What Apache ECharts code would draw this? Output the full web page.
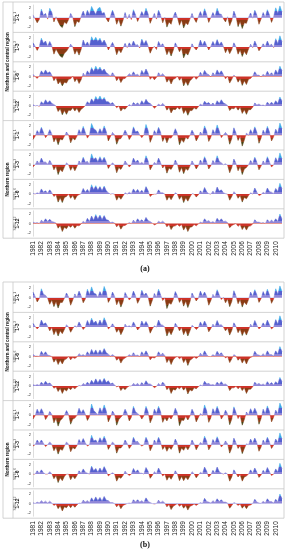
<!DOCTYPE html>
<html><head><meta charset="utf-8">
<script src="https://cdn.jsdelivr.net/npm/echarts@6/dist/echarts.min.js"></script>
<style>html,body{margin:0;padding:0;background:#fff}#c{width:287px;height:550px}</style>
</head><body><div id="c"></div>
<script>
const years = [1981,1982,1983,1984,1985,1986,1987,1988,1989,1990,1991,1992,1993,1994,1995,1996,1997,1998,1999,2000,2001,2002,2003,2004,2005,2006,2007,2008,2009,2010];
const quarters = ['Q1','Q2','Q3','Q4'];
const panelLabels = ['1-1','1-3','1-6','1-12','1-1','1-3','1-6','1-12'];
const axisNames = ['SPEI_1','SPEI_3','SPEI_6','SPEI_12','SPEI_1','SPEI_3','SPEI_6','SPEI_12'];
const groupNames = ['Northern and central region','Northern region'];
const figLabels = ['(a)','(b)'];
const yTicks = [-2,0,2];

// quarterly values 1981..2010 (four per year)
const A1 = [0.6,-0.2,-1.1,-0.4, 1.8,0.5,0.9,-0.3, 2.0,1.1,-0.9,0.2, -0.8,-1.7,-2.1,-0.9, -1.3,-0.4,0.9,0.1,
 -1.9,-0.7,-1.0,0.3, 1.4,0.2,1.6,0.6, 2.4,1.5,0.7,1.9, 2.2,0.9,1.1,-0.2, -0.9,0.3,1.6,0.4,
 -1.4,-0.3,-1.8,-0.6, 1.1,-0.2,0.7,-0.4, 1.7,0.6,-0.8,0.2, 1.3,0.4,2.0,0.8, -1.2,-0.1,0.9,-0.3,
 1.6,0.5,-1.1,0.1, -2.0,-0.9,-1.4,0.2, 1.2,0.1,-1.6,-0.5, -2.2,-1.1,-1.5,-0.3, 0.9,-0.2,-1.0,0.2,
 1.3,0.2,1.9,0.6, -1.0,0.1,1.1,0.2, 2.0,0.8,0.7,-0.2, -0.9,0.2,-1.7,-0.6, 1.4,0.3,-1.9,-0.8,
 -2.3,-1.1,-1.2,0.1, 1.0,-0.1,1.6,0.5, -1.4,-0.3,1.1,0.1, 1.7,0.6,-1.0,0.2, 2.1,0.9,2.5,1.2];
const A2 = [0.9,0.2,-0.7,0.1, 1.9,0.8,1.3,0.2, 1.2,0.3,-1.5,-0.4, -1.2,-1.9,-2.2,-1.3, -0.9,-0.2,0.6,0.1,
 -1.5,-0.6,-1.7,-0.5, 1.5,0.4,1.1,0.2, 2.2,1.3,2.1,1.2, 1.9,0.8,1.5,0.6, -0.6,0.2,1.0,0.1,
 -1.6,-0.5,-1.2,-0.2, 0.8,-0.1,0.9,0.2, 1.3,0.4,0.5,-0.2, 1.7,0.6,1.4,0.3, -1.3,-0.3,0.2,-0.5,
 1.2,0.3,0.7,-0.1, -1.6,-0.6,-1.9,-0.7, 0.9,0.1,-1.0,-0.2, -2.3,-1.2,-1.7,-0.6, 0.7,-0.1,-0.6,0.1,
 1.5,0.4,1.3,0.3, -0.6,0.2,1.2,0.3, 1.6,0.5,1.1,0.2, -1.2,-0.3,-1.4,-0.5, 0.9,0.1,-1.5,-0.6,
 -2.0,-0.9,-1.6,-0.4, 0.6,-0.1,1.3,0.3, -0.8,-0.1,0.7,0.1, 1.3,0.3,0.6,-0.1, 1.8,0.7,2.4,1.1];
const A3 = [0.5,0.0,-0.4,0.1, 1.2,0.6,1.4,0.7, 1.0,0.3,-0.9,-0.2, -1.6,-1.0,-2.0,-1.2, -1.4,-0.6,-0.5,0.1,
 -1.1,-0.4,-1.5,-0.7, 0.7,0.1,1.2,0.5, 1.9,1.0,2.2,1.3, 2.0,1.1,1.6,0.8, 0.5,0.1,0.8,0.2,
 -0.9,-0.2,-1.3,-0.5, -0.4,0.1,0.6,0.2, 1.0,0.3,0.5,0.0, 1.3,0.5,1.6,0.7, -0.6,-0.1,-0.7,-0.2,
 0.8,0.2,0.6,0.1, -1.2,-0.5,-1.6,-0.6, -0.4,0.1,-0.8,-0.2, -2.0,-1.0,-1.9,-0.9, -0.5,0.0,-0.6,-0.1,
 0.9,0.2,1.3,0.6, 0.4,-0.1,0.8,0.2, 1.4,0.6,1.2,0.4, -0.5,0.1,-1.4,-0.6, 0.3,-0.1,-1.2,-0.5,
 -1.9,-0.9,-1.7,-0.6, -0.4,0.1,1.0,0.3, 0.3,-0.1,0.5,0.1, 1.1,0.3,0.8,0.2, 1.4,0.6,2.2,1.2];
const A4 = [0.3,0.0,0.1,-0.1, 0.9,0.4,1.3,0.6, 1.1,0.5,0.3,0.0, -1.2,-0.6,-1.9,-1.0, -1.8,-0.9,-1.0,-0.4,
 -1.1,-0.5,-1.4,-0.7, -0.4,0.1,0.9,0.4, 1.5,0.8,2.0,1.2, 2.1,1.2,1.8,0.9, 0.9,0.4,0.7,0.2,
 -0.4,0.0,-1.1,-0.5, -0.7,-0.2,0.3,0.0, 0.7,0.3,0.6,0.2, 1.1,0.4,1.4,0.7, 0.5,0.1,-0.5,-0.1,
 0.4,0.1,0.5,0.1, -0.9,-0.3,-1.5,-0.7, -0.8,-0.3,-0.7,-0.2, -1.6,-0.8,-2.0,-1.0, -1.0,-0.4,-0.7,-0.2,
 0.4,0.1,1.0,0.5, 0.7,0.2,0.6,0.1, 1.1,0.5,1.3,0.6, 0.4,0.1,-1.0,-0.5, -0.6,-0.2,-0.9,-0.3,
 -1.6,-0.8,-1.8,-0.8, -0.8,-0.3,0.6,0.2, 0.4,0.1,0.2,0.0, 0.8,0.3,0.8,0.3, 1.1,0.5,1.9,1.0];
const A5 = [-0.9,-0.2,1.0,0.3, 1.7,0.6,-0.5,0.1, 1.2,0.3,-1.4,-0.5, -2.0,-0.8,-1.0,-0.2, 0.7,0.1,-1.6,-0.6,
 -1.0,-0.2,1.2,0.3, 1.9,0.6,-0.6,0.1, 2.5,1.4,1.1,0.3, 1.4,0.5,2.0,0.8, -1.2,-0.3,0.6,0.1,
 -1.9,-0.8,-0.7,0.1, 1.1,0.3,-0.9,-0.2, 1.8,0.7,0.9,0.1, -0.5,0.1,2.3,1.0, -1.5,-0.4,1.0,0.2,
 1.7,0.6,-1.3,-0.3, -1.6,-0.5,-0.6,0.1, 1.4,0.4,-2.0,-0.9, -1.5,-0.4,-0.8,0.0, 1.1,0.3,-1.2,-0.4,
 0.7,0.1,2.0,0.8, -1.3,-0.4,1.2,0.3, 2.2,0.9,-0.5,0.1, 0.6,0.1,-1.9,-0.7, 1.6,0.5,-1.1,-0.2,
 -2.3,-1.0,0.5,0.0, 1.2,0.3,1.8,0.6, -1.7,-0.6,1.1,0.2, 1.9,0.7,-1.2,-0.3, 1.3,0.4,2.6,1.4];
const A6 = [-0.5,0.0,0.8,0.2, 1.4,0.5,0.6,0.1, 0.9,0.2,-1.1,-0.3, -2.1,-1.0,-1.5,-0.5, 0.4,0.0,-1.2,-0.4,
 -1.3,-0.4,0.8,0.2, 1.6,0.5,0.7,0.1, 2.3,1.1,1.5,0.6, 1.7,0.7,1.6,0.6, -0.8,-0.1,0.4,0.0,
 -1.7,-0.6,-1.0,-0.2, 0.8,0.2,-0.5,0.0, 1.4,0.5,1.0,0.2, 0.5,0.1,1.9,0.8, -1.1,-0.3,0.5,0.1,
 1.4,0.4,-0.7,-0.1, -1.8,-0.7,-1.0,-0.2, 1.0,0.2,-1.6,-0.6, -1.9,-0.8,-1.2,-0.3, 0.8,0.1,-0.9,-0.2,
 1.0,0.2,1.7,0.6, -0.9,-0.2,0.9,0.2, 1.9,0.7,0.4,0.0, 0.2,-0.1,-1.7,-0.6, 1.2,0.3,-1.3,-0.4,
 -2.1,-0.9,-0.6,0.0, 0.9,0.2,1.6,0.5, -1.1,-0.3,0.8,0.1, 1.7,0.6,-0.5,0.0, 1.5,0.5,2.5,1.2];
const A7 = [0.2,0.0,0.3,0.1, 1.1,0.4,0.7,0.2, 0.9,0.3,-0.5,-0.1, -1.7,-0.8,-1.8,-0.7, -0.5,0.0,-0.9,-0.3,
 -1.2,-0.4,-0.1,0.1, 1.2,0.4,1.0,0.3, 2.0,0.9,1.8,0.8, 1.6,0.7,1.7,0.7, 0.3,0.0,0.1,0.0,
 -1.3,-0.5,-1.1,-0.4, 0.3,0.0,0.4,0.1, 1.1,0.4,1.0,0.3, 0.8,0.2,1.6,0.7, -0.5,-0.1,0.0,0.0,
 0.9,0.3,0.3,0.0, -1.3,-0.5,-1.2,-0.4, 0.3,0.0,-1.1,-0.4, -1.8,-0.8,-1.5,-0.6, 0.1,0.0,-0.6,-0.2,
 0.7,0.2,1.4,0.5, 0.1,0.0,0.6,0.1, 1.5,0.6,0.9,0.3, 0.1,0.0,-1.3,-0.5, 0.5,0.1,-0.9,-0.3,
 -1.7,-0.7,-1.0,-0.3, 0.3,0.0,1.3,0.4, -0.3,-0.1,0.4,0.1, 1.3,0.5,0.4,0.1, 1.2,0.5,2.3,1.1];
const A8 = [0.3,0.1,0.2,0.0, 0.7,0.3,1.0,0.4, 0.9,0.4,0.3,0.1, -1.0,-0.4,-1.7,-0.8, -1.1,-0.4,-0.8,-0.3,
 -1.0,-0.4,-0.5,-0.1, 0.5,0.1,1.1,0.4, 1.6,0.7,1.9,0.9, 1.8,0.8,1.7,0.8, 0.7,0.2,0.3,0.1,
 -0.7,-0.2,-1.2,-0.5, -0.4,-0.1,0.2,0.0, 0.7,0.2,1.0,0.4, 0.8,0.3,1.3,0.6, 0.4,0.1,-0.3,-0.1,
 0.5,0.2,0.5,0.1, -0.7,-0.2,-1.3,-0.6, -0.5,-0.2,-0.6,-0.2, -1.4,-0.6,-1.7,-0.8, -0.7,-0.2,-0.5,-0.1,
 0.3,0.1,1.0,0.4, 0.6,0.2,0.4,0.1, 1.1,0.5,1.0,0.4, 0.5,0.2,-0.9,-0.4, -0.2,0.0,-0.6,-0.2,
 -1.3,-0.6,-1.4,-0.6, -0.5,-0.1,0.8,0.3, 0.3,0.1,0.2,0.0, 0.8,0.3,0.7,0.3, 1.0,0.4,2.0,0.9];
const B1 = [1.2,0.3,-0.9,-0.2, 1.9,0.7,0.5,-0.1, -1.4,-0.5,-1.9,-0.8, -2.2,-1.0,-1.0,-0.1, 1.0,0.2,-1.6,-0.5,
 0.8,0.1,1.4,0.4, -1.1,-0.3,1.8,0.6, 2.3,1.0,0.8,0.1, 1.3,0.4,2.4,1.2, -1.0,-0.2,1.2,0.3,
 -1.5,-0.5,-2.0,-0.9, 1.1,0.3,-0.5,0.0, 1.4,0.4,-1.2,-0.3, 1.6,0.5,1.0,0.2, -1.8,-0.6,0.9,0.1,
 1.8,0.6,-0.6,0.0, -2.3,-1.1,-1.4,-0.4, 1.3,0.4,-1.0,-0.2, -1.8,-0.7,-2.1,-0.9, 1.0,0.2,-0.7,-0.1,
 1.4,0.4,1.2,0.3, -1.6,-0.6,0.7,0.1, 1.7,0.6,-0.4,0.1, -1.1,-0.3,-1.9,-0.8, 1.5,0.4,-1.3,-0.4,
 -2.0,-0.9,-1.5,-0.4, 1.2,0.3,1.7,0.6, -1.0,-0.2,1.3,0.3, 1.8,0.6,-1.2,-0.3, 1.9,0.7,2.5,1.3];
const B2 = [0.8,0.2,-0.4,0.1, 1.5,0.6,0.9,0.2, -0.8,-0.1,-1.6,-0.6, -1.9,-0.8,-1.4,-0.5, 0.5,0.0,-1.1,-0.3,
 0.3,0.0,1.1,0.3, -0.5,0.0,1.4,0.4, 1.9,0.8,1.3,0.4, 1.5,0.5,2.0,0.9, -0.4,0.0,0.7,0.1,
 -1.1,-0.4,-1.6,-0.7, 0.6,0.1,0.3,0.0, 1.1,0.3,-0.6,-0.1, 1.3,0.4,1.2,0.4, -1.3,-0.4,0.3,0.0,
 1.5,0.5,0.4,0.0, -1.9,-0.8,-1.6,-0.6, 0.8,0.2,-0.8,-0.1, -1.6,-0.6,-1.9,-0.8, 0.4,0.0,-0.5,-0.1,
 1.1,0.3,1.3,0.4, -1.0,-0.3,0.6,0.1, 1.4,0.4,0.5,0.0, -0.8,-0.2,-1.7,-0.7, 0.9,0.2,-1.2,-0.4,
 -1.8,-0.8,-1.7,-0.6, 0.6,0.1,1.4,0.4, -0.4,0.0,0.9,0.2, 1.5,0.5,-0.4,0.0, 1.6,0.6,2.4,1.1];
const B3 = [0.5,0.1,0.1,0.0, 1.1,0.4,1.0,0.3, 0.2,0.0,-1.2,-0.5, -1.7,-0.8,-1.6,-0.7, -0.5,0.0,-0.7,-0.2,
 -0.4,-0.1,0.6,0.2, 0.4,0.1,1.0,0.3, 1.5,0.6,1.4,0.5, 1.4,0.6,1.7,0.8, 0.5,0.1,0.4,0.1,
 -0.8,-0.3,-1.4,-0.6, -0.3,0.0,0.4,0.1, 0.8,0.2,0.3,0.0, 1.0,0.3,1.2,0.4, -0.7,-0.2,-0.3,0.0,
 1.0,0.3,0.7,0.2, -1.3,-0.5,-1.7,-0.7, -0.2,0.0,-0.5,-0.1, -1.3,-0.5,-1.9,-0.8, -0.5,-0.1,-0.4,-0.1,
 0.7,0.2,1.2,0.4, 0.0,0.0,0.4,0.1, 1.1,0.4,0.8,0.2, -0.3,0.0,-1.3,-0.5, 0.4,0.1,-0.8,-0.3,
 -1.4,-0.6,-1.6,-0.6, -0.2,0.0,1.1,0.4, 0.3,0.1,0.6,0.1, 1.2,0.4,0.4,0.1, 1.2,0.5,2.1,1.0];
const B4 = [0.3,0.1,0.3,0.1, 0.8,0.3,1.0,0.4, 0.6,0.2,-0.5,-0.2, -1.2,-0.5,-1.6,-0.7, -1.1,-0.4,-0.8,-0.3,
 -0.6,-0.2,0.1,0.0, 0.5,0.2,0.8,0.3, 1.2,0.5,1.5,0.6, 1.4,0.6,1.6,0.7, 1.1,0.4,0.6,0.2,
 -0.2,0.0,-1.0,-0.4, -0.8,-0.3,0.0,0.0, 0.5,0.2,0.5,0.1, 0.7,0.2,1.1,0.4, 0.4,0.1,-0.4,-0.1,
 0.5,0.1,0.8,0.3, -0.8,-0.3,-1.6,-0.7, -0.9,-0.3,-0.6,-0.2, -0.9,-0.3,-1.7,-0.8, -1.1,-0.4,-0.6,-0.2,
 0.2,0.0,1.0,0.4, 0.5,0.2,0.3,0.1, 0.8,0.3,0.9,0.3, 0.4,0.1,-1.0,-0.4, -0.4,-0.1,-0.6,-0.2,
 -1.0,-0.4,-1.6,-0.7, -0.7,-0.2,0.8,0.3, 0.5,0.2,0.4,0.1, 0.9,0.3,0.7,0.2, 0.9,0.4,1.8,0.9];
const B5 = [-0.8,-0.1,1.3,0.4, 1.4,0.5,-0.9,-0.2, 0.8,0.2,-1.6,-0.6, -2.3,-1.1,-0.7,0.0, 1.0,0.2,-1.9,-0.8,
 -0.6,0.0,1.5,0.5, 1.2,0.3,-1.1,-0.3, 2.4,1.0,0.6,0.1, 1.6,0.6,2.2,0.9, -1.4,-0.4,0.9,0.2,
 -2.1,-0.9,-0.4,0.1, 1.3,0.4,-1.2,-0.4, 1.9,0.7,0.4,0.0, -0.8,-0.1,1.9,0.7, -1.6,-0.6,1.3,0.4,
 1.9,0.7,-1.5,-0.5, -1.2,-0.3,-0.8,0.0, 1.5,0.5,-2.2,-1.0, -1.1,-0.2,-1.0,-0.2, 1.3,0.4,-1.4,-0.5,
 0.4,0.0,2.2,0.9, -1.5,-0.5,1.4,0.4, 1.9,0.7,-0.8,-0.1, 1.1,0.3,-2.0,-0.8, 1.8,0.6,-0.7,0.0,
 -2.1,-0.9,0.7,0.1, 1.4,0.4,1.5,0.5, -1.9,-0.7,1.3,0.3, 2.0,0.8,-1.4,-0.4, 1.1,0.3,2.6,1.5];
const B6 = [-0.3,0.0,1.0,0.3, 1.0,0.3,-0.4,0.0, 0.6,0.1,-1.3,-0.5, -2.0,-0.9,-1.2,-0.3, 0.6,0.1,-1.5,-0.6,
 -0.9,-0.2,1.1,0.3, 1.3,0.4,-0.3,0.0, 2.0,0.8,1.0,0.3, 1.5,0.6,1.8,0.7, -1.0,-0.2,0.6,0.1,
 -1.8,-0.7,-0.7,-0.1, 1.0,0.3,-0.8,-0.2, 1.6,0.6,0.7,0.1, -0.3,0.0,1.6,0.6, -1.3,-0.4,1.0,0.2,
 1.6,0.5,-1.0,-0.3, -1.4,-0.5,-1.0,-0.2, 1.2,0.3,-1.8,-0.7, -1.2,-0.4,-1.1,-0.3, 1.0,0.2,-1.1,-0.3,
 0.5,0.1,1.8,0.7, -1.1,-0.3,1.1,0.3, 1.7,0.6,-0.5,0.0, 0.8,0.2,-1.8,-0.7, 1.4,0.4,-0.8,-0.2,
 -1.9,-0.8,0.2,0.0, 1.2,0.3,1.4,0.4, -1.4,-0.5,1.0,0.2, 1.6,0.6,-0.8,-0.1, 1.2,0.4,2.5,1.2];
const B7 = [0.0,0.0,0.7,0.2, 0.9,0.3,0.0,0.0, 0.5,0.1,-1.0,-0.3, -1.8,-0.8,-1.4,-0.5, 0.0,0.0,-1.2,-0.4,
 -1.0,-0.3,0.7,0.2, 1.1,0.4,0.2,0.0, 1.7,0.7,1.2,0.4, 1.3,0.5,1.6,0.7, -0.4,0.0,0.3,0.0,
 -1.5,-0.6,-0.9,-0.3, 0.6,0.1,-0.3,0.0, 1.2,0.4,0.9,0.2, 0.2,0.0,1.4,0.6, -0.9,-0.3,0.5,0.1,
 1.3,0.4,-0.4,0.0, -1.3,-0.5,-1.1,-0.3, 0.7,0.1,-1.4,-0.5, -1.4,-0.6,-1.2,-0.4, 0.5,0.1,-0.8,-0.2,
 0.4,0.1,1.5,0.6, -0.6,-0.1,0.8,0.2, 1.5,0.5,0.2,0.0, 0.3,0.0,-1.5,-0.6, 0.9,0.2,-0.6,-0.1,
 -1.5,-0.6,-0.4,0.0, 0.9,0.2,1.3,0.4, -0.7,-0.2,0.8,0.2, 1.4,0.5,-0.3,0.0, 1.1,0.4,2.3,1.1];
const B8 = [0.2,0.0,0.3,0.1, 0.6,0.2,0.5,0.1, 0.5,0.1,-0.4,-0.1, -1.1,-0.5,-1.6,-0.7, -0.9,-0.3,-0.9,-0.3,
 -0.8,-0.3,0.1,0.0, 0.7,0.3,0.6,0.2, 1.2,0.5,1.4,0.6, 1.3,0.5,1.5,0.7, 0.6,0.2,0.2,0.0,
 -0.7,-0.2,-1.1,-0.4, -0.2,0.0,0.1,0.0, 0.8,0.3,0.8,0.3, 0.6,0.2,1.2,0.5, 0.2,0.0,-0.1,0.0,
 0.7,0.2,0.5,0.1, -0.7,-0.2,-1.3,-0.6, -0.3,0.0,-0.6,-0.2, -1.0,-0.4,-1.4,-0.6, -0.4,-0.1,-0.4,-0.1,
 0.2,0.0,1.1,0.4, 0.3,0.1,0.6,0.2, 1.0,0.4,0.8,0.3, 0.3,0.1,-1.0,-0.4, 0.2,0.0,-0.4,-0.1,
 -1.0,-0.4,-1.1,-0.4, -0.3,0.0,0.9,0.3, 0.1,0.0,0.5,0.1, 1.0,0.4,0.4,0.1, 0.9,0.3,2.0,1.0];

const figData = [[A1,A2,A3,A4,A5,A6,A7,A8],[B1,B2,B3,B4,B5,B6,B7,B8]];
const periods = [];
years.forEach(y => quarters.forEach(q => periods.push(y + '-' + q)));

const figTops = [3, 283];
const panelH = 29.4;
const plotLeft = 33, plotW = 249;
const grid = [], xAxis = [], yAxis = [], series = [], graphic = [];
const lineColor = '#c8c8c8';

figData.forEach((panels, f) => {
  const top0 = figTops[f];
  const bottom = top0 + 8 * panelH;
  graphic.push({type:'rect', shape:{x:3, y:top0 - 1, width:281, height:8 * panelH + 1}, style:{fill:'none', stroke:lineColor, lineWidth:0.8}, silent:true});
  graphic.push({type:'line', shape:{x1:13, y1:top0 - 1, x2:13, y2:bottom}, style:{stroke:lineColor, lineWidth:0.8}, silent:true});
  for (let p = 1; p < 8; p++) {
    const yy = top0 + p * panelH;
    graphic.push({type:'line', shape:{x1:p === 4 ? 3 : 13, y1:yy, x2:284, y2:yy}, style:{stroke:lineColor, lineWidth:0.8}, silent:true});
  }
  groupNames.forEach((g, gi) => {
    graphic.push({type:'text', x:8, y:top0 + (gi * 4 + 2) * panelH, rotation:Math.PI / 2,
      style:{text:g, fontSize:4.5, fontWeight:'bold', fill:'#222', align:'center', verticalAlign:'middle', fontFamily:'Liberation Sans'}, silent:true});
  });
  graphic.push({type:'text', x:145, y:f === 0 ? 269 : 545,
    style:{text:figLabels[f], fontSize:8, fontWeight:'bold', fill:'#111', align:'center', verticalAlign:'middle', fontFamily:'Liberation Serif'}, silent:true});

  panels.forEach((vals, p) => {
    const idx = f * 8 + p;
    const top = top0 + p * panelH;
    graphic.push({type:'text', x:17.5, y:top + panelH / 2, rotation:Math.PI / 2,
      style:{text:panelLabels[p], fontSize:5, fontWeight:'bold', fill:'#222', align:'center', verticalAlign:'middle', fontFamily:'Liberation Sans'}, silent:true});
    grid.push({left:plotLeft, width:plotW, top:top + 2, height:panelH - 4});
    const last = p === 7;
    xAxis.push({type:'category', gridIndex:idx, data:periods, boundaryGap:false,
      axisLine:{show:false}, axisTick:{show:false}, splitLine:{show:false},
      axisLabel:{show:last, interval:3, rotate:90, fontSize:6.5, color:'#222', margin:5,
        fontFamily:'Liberation Sans', formatter:v => v.slice(0, 4)}});
    yAxis.push({type:'value', gridIndex:idx, min:-2.7, max:2.7,
      name:axisNames[p], nameLocation:'middle', nameGap:7, nameRotate:90,
      nameTextStyle:{fontSize:3.5, color:'#555', fontFamily:'Liberation Sans'},
      axisLine:{show:true, lineStyle:{color:'#bbb', width:0.5}},
      axisTick:{show:false}, splitLine:{show:false},
      axisLabel:{customValues:yTicks, fontSize:4, color:'#444', margin:2, fontFamily:'Liberation Sans'}});
    series.push({type:'line', xAxisIndex:idx, yAxisIndex:idx, data:vals, showSymbol:false,
      lineStyle:{width:0.5}, areaStyle:{opacity:1}, silent:true, animation:false});
  });
});

const chart = echarts.init(document.getElementById('c'));
chart.setOption({
  animation:false,
  backgroundColor:'#fff',
  grid, xAxis, yAxis, series, graphic,
  visualMap:{type:'piecewise', show:false, dimension:1, seriesIndex:series.map((s, i) => i),
    pieces:[
      {gt:1.5, color:'#3aa6e6'},
      {gt:0.5, lte:1.5, color:'#5560cf'},
      {gt:0, lte:0.5, color:'#8f86d8'},
      {gt:-0.5, lte:0, color:'#cc3328'},
      {gt:-1.5, lte:-0.5, color:'#8a3c14'},
      {lte:-1.5, color:'#4a4212'}
    ]}
});
</script></body></html>
